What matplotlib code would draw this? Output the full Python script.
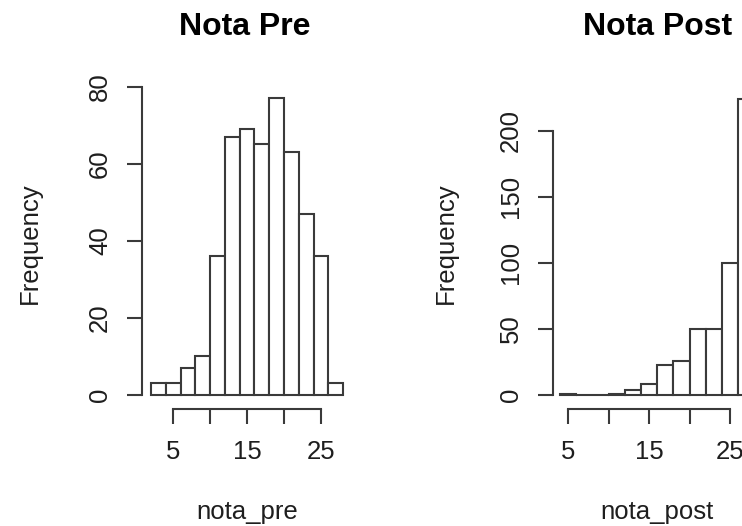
import matplotlib
matplotlib.use('Agg')
import matplotlib.pyplot as plt
import numpy as np

# histogram data (bin width 2)
pre_edges = np.arange(2, 30, 2)
pre_counts = [3, 3, 7, 10, 36, 67, 69, 65, 77, 63, 47, 36, 3]
post_edges = np.arange(4, 30, 2)
post_counts = [1, 0, 0, 1, 4, 8, 23, 26, 50, 50, 100, 224]

pre_yticks = [0, 20, 40, 60, 80]
post_yticks = [0, 50, 100, 150, 200]
xticks = [5, 10, 15, 20, 25]
xticklabels = ['5', '', '15', '', '25']

W, H = 742, 526
LINE = '#3a3a3a'
TXT = '#1e1e1e'

plt.rcParams['font.family'] = ['Liberation Sans', 'DejaVu Sans']

fig = plt.figure(figsize=(W / 100, H / 100), dpi=100)


def make_axes(x5_px, x_scale, y0_px, y_scale):
    # box in pixels, limits chosen so that x=5 sits at x5_px and y=0 at y0_px
    left, right, top, bottom = x5_px - 80, x5_px + 260, 50, 470
    ax = fig.add_axes([left / W, 1 - bottom / H, (right - left) / W, (bottom - top) / H])
    ax.set_xlim(5 - (x5_px - left) / x_scale, 5 + (right - x5_px) / x_scale)
    ax.set_ylim(-(bottom - y0_px) / y_scale, (y0_px - top) / y_scale)
    ax.patch.set_alpha(0)
    return ax


def draw_hist(ax, edges, counts, yticks, yaxis_x, xaxis_y):
    ax.bar(edges[:-1], counts, width=2, align='edge', facecolor='white',
           edgecolor=LINE, linewidth=1.5)
    for s in ['top', 'right']:
        ax.spines[s].set_visible(False)
    ax.spines['left'].set_position(('data', yaxis_x))
    ax.spines['left'].set_bounds(yticks[0], yticks[-1])
    ax.spines['bottom'].set_position(('data', xaxis_y))
    ax.spines['bottom'].set_bounds(xticks[0], xticks[-1])
    for s in ['left', 'bottom']:
        ax.spines[s].set_color(LINE)
        ax.spines[s].set_linewidth(1.5)
    ax.set_xticks(xticks)
    ax.set_xticklabels(xticklabels)
    ax.set_yticks(yticks)
    ax.tick_params(direction='out', length=10.5, width=1.5, color=LINE,
                   labelsize=18.5, labelcolor=TXT)
    ax.tick_params(axis='x', pad=12)
    ax.tick_params(axis='y', pad=11)
    for lab in ax.get_yticklabels():
        lab.set_rotation(90)
        lab.set_va('center')


# left panel
ax1 = make_axes(173.3, 7.38, 395, 3.854)
draw_hist(ax1, pre_edges, pre_counts, pre_yticks, 0.76, -14 / 3.854)

# right panel (runs off the right edge, as in the original)
ax2 = make_axes(568, 8.1, 395, 1.3215)
draw_hist(ax2, post_edges, post_counts, post_yticks, 5 - 15 / 8.1, -14 / 1.3215)

# titles and axis labels
fig.text(245 / W, 1 - 35 / H, 'Nota Pre', ha='center', va='baseline',
         fontsize=23, fontweight='bold', color='black')
fig.text(658 / W, 1 - 35 / H, 'Nota Post', ha='center', va='baseline',
         fontsize=23, fontweight='bold', color='black')
fig.text(30 / W, 1 - 243 / H, 'Frequency', rotation=90, ha='center', va='center',
         fontsize=18.5, color=TXT)
fig.text(446 / W, 1 - 243 / H, 'Frequency', rotation=90, ha='center', va='center',
         fontsize=18.5, color=TXT)
fig.text(247 / W, 1 - 519 / H, 'nota_pre', ha='center', va='baseline',
         fontsize=18.5, color=TXT)
fig.text(657 / W, 1 - 519 / H, 'nota_post', ha='center', va='baseline',
         fontsize=18.5, color=TXT)

fig.savefig('out.png', dpi=100)
